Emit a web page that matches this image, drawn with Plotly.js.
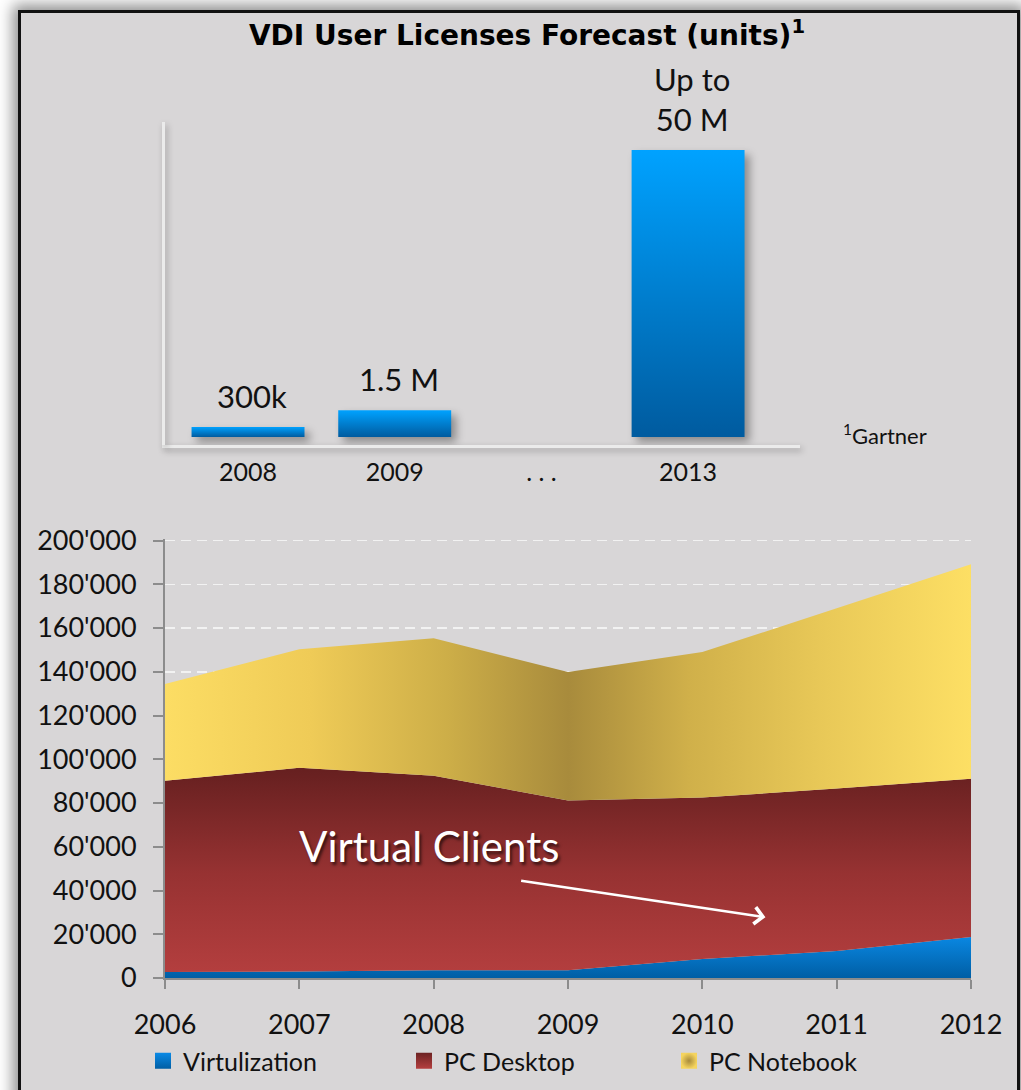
<!DOCTYPE html>
<html>
<head>
<meta charset="utf-8">
<script src="https://cdn.plot.ly/plotly-3.0.1.min.js"></script>
<style>
  html, body { margin: 0; padding: 0; background: #ffffff; width: 1021px; height: 1090px; overflow: hidden; }
  #frame { position: absolute; left: 18px; top: 10px; width: 1002px; height: 1110px; box-sizing: border-box;
           border: 3px solid #111; background: #d8d6d7; box-shadow: 0 0 14px 5px rgba(0,0,0,0.45); }
  #chart { position: absolute; left: 0; top: 0; width: 1021px; height: 1090px; }
</style>
</head>
<body>
<div id="frame"></div>
<div id="chart"></div>
<script>
// ---- Top chart: VDI user licenses forecast ----
const barCategories = ['2008', '2009', '. . .', '2013'];
// bar heights as drawn in the picture (not to scale with the labels)
const barHeights = [1.75, 4.65, null, 50];
const barLabels = ['300k', '1.5 M', '', 'Up to<br>50 M'];

// ---- Bottom chart: stacked area ----
const years = [2006, 2007, 2008, 2009, 2010, 2011, 2012];
const virtualization = [2700, 3000, 3500, 3500, 8700, 12300, 18700];
const pcDesktop = [87500, 93100, 89000, 77600, 73800, 74300, 72400];
const pcNotebook = [44200, 54200, 62800, 58800, 66500, 82400, 98000];
const seriesNames = ['Virtulization', 'PC Desktop', 'PC Notebook'];

const FONT = 'Lato, "Open Sans", sans-serif';
const TITLEFONT = '"DejaVu Sans", sans-serif';
const W = 1021, H = 1090;
const px = v => v / W;
const py = v => 1 - v / H;

const traces = [
  {
    type: 'bar', x: barCategories, y: barHeights, xaxis: 'x2', yaxis: 'y2',
    marker: { color: '#0a86dc' }, width: 0.77, showlegend: false, hoverinfo: 'skip'
  },
  {
    type: 'scatter', x: years, y: virtualization, stackgroup: 'one', mode: 'none',
    name: seriesNames[0], showlegend: false, hoverinfo: 'skip',
    fillgradient: { type: 'vertical', start: 0, stop: 20000,
      colorscale: [[0, '#005ea4'], [1, '#0a8ae6']] }
  },
  {
    type: 'scatter', x: years, y: pcDesktop, stackgroup: 'one', mode: 'none',
    name: seriesNames[1], showlegend: false, hoverinfo: 'skip',
    fillgradient: { type: 'vertical', start: 0, stop: 95000,
      colorscale: [[0, '#b53f3f'], [0.5, '#973232'], [1, '#672020']] }
  },
  {
    type: 'scatter', x: years, y: pcNotebook, stackgroup: 'one', mode: 'none',
    name: seriesNames[2], showlegend: false, hoverinfo: 'skip',
    fillgradient: { type: 'horizontal', start: 2006, stop: 2012,
      colorscale: [[0, '#fcdd64'], [0.18, '#efcb57'], [0.35, '#cdae48'], [0.5, '#a88b3c'],
                   [0.65, '#d0b04a'], [0.82, '#e9c958'], [1, '#fddf64']] }
  },
  // legend entries
  { type: 'scatter', x: [null], y: [null], mode: 'markers', name: seriesNames[0], legend: 'legend',
    marker: { symbol: 'square', size: 16, color: '#0a8ae6', gradient: { type: 'vertical', color: '#005ea4' } } },
  { type: 'scatter', x: [null], y: [null], mode: 'markers', name: seriesNames[1], legend: 'legend2',
    marker: { symbol: 'square', size: 16, color: '#6c2222', gradient: { type: 'vertical', color: '#b53f3f' } } },
  { type: 'scatter', x: [null], y: [null], mode: 'markers', name: seriesNames[2], legend: 'legend3',
    marker: { symbol: 'square', size: 16, color: '#f5d45e', gradient: { type: 'radial', color: '#a88b3c' } } }
];

const barAnnotations = [];
barCategories.forEach((c, i) => {
  if (!barLabels[i]) return;
  barAnnotations.push({
    x: i, y: barHeights[i], xref: 'x2', yref: 'y2', text: barLabels[i], showarrow: false,
    xshift: 4, yshift: 10, yanchor: 'bottom', font: { family: FONT, size: 31, color: '#111' }
  });
});

const legendBase = { orientation: 'h', yanchor: 'middle', xanchor: 'left', y: py(1061),
  bgcolor: 'rgba(0,0,0,0)', font: { family: FONT, size: 25, color: '#111' }, itemwidth: 30 };

const layout = {
  width: W, height: H,
  margin: { l: 0, r: 0, t: 0, b: 0 },
  paper_bgcolor: 'rgba(0,0,0,0)', plot_bgcolor: 'rgba(0,0,0,0)',
  separators: ".'",
  font: { family: FONT, color: '#111' },
  title: { text: '<b>VDI User Licenses Forecast (units)<sup>1</sup></b>', x: px(527), y: py(35),
    xanchor: 'center', yanchor: 'middle', xref: 'paper', yref: 'paper',
    font: { family: TITLEFONT, size: 28, color: '#000' } },
  // top bar chart axes
  xaxis2: { domain: [px(165), px(800)], anchor: 'y2', type: 'category', range: [-0.566, 3.763],
    showline: true, linecolor: '#ebebeb', linewidth: 3, showgrid: false, ticks: '',
    ticklabelstandoff: 3, tickfont: { family: FONT, size: 25, color: '#111' }, fixedrange: true },
  yaxis2: { domain: [py(445), py(122)], anchor: 'x2', range: [-1.4, 54.9],
    showline: true, linecolor: '#ebebeb', linewidth: 3, showgrid: false, zeroline: false,
    showticklabels: false, ticks: '', fixedrange: true },
  // bottom area chart axes
  xaxis: { domain: [px(165), px(971)], anchor: 'y', range: [2006, 2012], dtick: 1,
    showline: true, linecolor: '#8c8c8c', linewidth: 2, ticks: 'outside', ticklen: 9,
    tickcolor: '#8c8c8c', tickwidth: 2, showgrid: false, zeroline: false,
    ticklabelstandoff: 13, tickfont: { family: FONT, size: 27, color: '#111' }, fixedrange: true },
  yaxis: { domain: [py(978), py(539)], anchor: 'x', range: [0, 200700], tick0: 0, dtick: 20000,
    tickformat: ',d', showline: true, linecolor: '#8c8c8c', linewidth: 2, ticks: 'outside',
    ticklen: 10, tickcolor: '#8c8c8c', tickwidth: 2, showgrid: true, gridcolor: '#f2f2f2',
    griddash: '10px,6px', gridwidth: 1.5, zeroline: false, ticklabelstandoff: 11,
    tickfont: { family: FONT, size: 27, color: '#111' }, fixedrange: true },
  legend: Object.assign({}, legendBase, { x: px(143) }),
  legend2: Object.assign({}, legendBase, { x: px(404) }),
  legend3: Object.assign({}, legendBase, { x: px(669) }),
  annotations: barAnnotations.concat([
    { xref: 'paper', yref: 'paper', x: px(841), y: py(435), xanchor: 'left', yanchor: 'middle',
      text: '<sup>1</sup>Gartner', showarrow: false, font: { family: FONT, size: 22, color: '#111' } },
    { xref: 'paper', yref: 'paper', x: px(429), y: py(846), xanchor: 'center', yanchor: 'middle',
      text: 'Virtual Clients', showarrow: false,
      font: { family: FONT, size: 42, color: '#ffffff', shadow: '2px 3px 3px rgba(0,0,0,0.6)' } },
    { xref: 'x', yref: 'y', axref: 'x', ayref: 'y', x: 2010.47, y: 27800, ax: 2008.64, ay: 44600,
      text: '', showarrow: true, arrowhead: 4, arrowsize: 1.3, arrowwidth: 2.5, arrowcolor: '#ffffff' }
  ])
};

Plotly.newPlot('chart', traces, layout, { displayModeBar: false, staticPlot: true }).then(gd => {
  const svg = gd.querySelector('svg.main-svg');
  const NS = 'http://www.w3.org/2000/svg';
  const defs = document.createElementNS(NS, 'defs');
  const grad = document.createElementNS(NS, 'linearGradient');
  grad.setAttribute('id', 'barGrad');
  grad.setAttribute('x1', '0'); grad.setAttribute('y1', '0');
  grad.setAttribute('x2', '0'); grad.setAttribute('y2', '1');
  [['0', '#00a2ff'], ['1', '#005b9f']].forEach(([o, c]) => {
    const s = document.createElementNS(NS, 'stop');
    s.setAttribute('offset', o); s.setAttribute('stop-color', c);
    grad.appendChild(s);
  });
  defs.appendChild(grad);
  svg.insertBefore(defs, svg.firstChild);
  gd.querySelectorAll('.barlayer .point path').forEach(p => {
    p.style.fill = 'url(#barGrad)';
    p.style.filter = 'drop-shadow(5px 5px 4px rgba(0,0,0,0.35))';
  });
  gd.querySelectorAll('.subplot.x2y2 .xlines-above, .subplot.x2y2 .ylines-above').forEach(p => {
    p.style.filter = 'drop-shadow(2px 3px 3px rgba(0,0,0,0.3))';
  });
});
</script>
</body>
</html>
